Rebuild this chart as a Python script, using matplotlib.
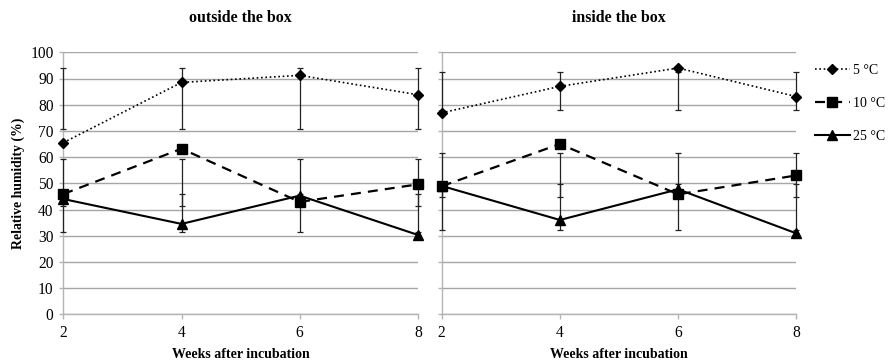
import numpy as np
import matplotlib
matplotlib.use("Agg")
import matplotlib.pyplot as plt
from matplotlib.lines import Line2D

plt.rcParams['font.family'] = ['Liberation Serif', 'DejaVu Serif']

weeks = [2, 4, 6, 8]
panel_titles = ["outside the box", "inside the box"]
series_labels = ["5 °C", "10 °C", "25 °C"]

# outside the box
out_5 = [65.5, 88.5, 91.2, 83.8]
out_10 = [45.9, 63.2, 42.9, 49.6]
out_25 = [44.0, 34.5, 45.3, 30.3]
# inside the box
in_5 = [76.9, 87.0, 94.0, 83.1]
in_10 = [48.9, 65.0, 45.8, 53.0]
in_25 = [49.0, 36.0, 47.7, 30.9]

yticks = [0, 10, 20, 30, 40, 50, 60, 70, 80, 90, 100]
xlabel = "Weeks after incubation"
ylabel = "Relative humidity (%)"

styles = [
    dict(linestyle=(0, (1, 1.6)), marker='D', markersize=5.2, linewidth=1.2),
    dict(linestyle=(0, (4.5, 3.2)), marker='s', markersize=7.5, linewidth=1.6),
    dict(linestyle='-', marker='^', markersize=6.8, linewidth=1.5),
]

W, H = 890, 362
fig = plt.figure(figsize=(W / 100, H / 100), dpi=100)

grid_c = '#a6a6a6'
axis_c = '#b4b4b4'

panels = [[out_5, out_10, out_25], [in_5, in_10, in_25]]
lefts = [63.3, 441.7]
ax_w = 354.6
ax_bottom_px = 314.3
ax_top_px = 52.3

axes = []
for i, (data, title) in enumerate(zip(panels, panel_titles)):
    ax = fig.add_axes([lefts[i] / W, 1 - ax_bottom_px / H, ax_w / W,
                       (ax_bottom_px - ax_top_px) / H])
    axes.append(ax)
    ax.set_xlim(2, 8)
    ax.set_ylim(0, 100)
    ax.set_yticks(yticks)
    ax.set_xticks(weeks)
    ax.yaxis.grid(True, color=grid_c, linewidth=1.0)
    ax.set_axisbelow(True)
    for s in ['top', 'right']:
        ax.spines[s].set_visible(False)
    for s in ['left', 'bottom']:
        ax.spines[s].set_color(axis_c)
        ax.spines[s].set_linewidth(1.0)
    ax.tick_params(axis='y', direction='out', length=3, width=1.0, color=axis_c,
                   labelsize=11.2, pad=4)
    ax.tick_params(axis='x', direction='out', length=3.5, width=1.0, color=axis_c,
                   labelsize=11.2, pad=4.5)
    if i == 1:
        ax.tick_params(axis='y', labelleft=False)
    else:
        ax.set_ylabel(ylabel, fontsize=9.9, fontweight='bold', labelpad=4)
    ax.set_xlabel(xlabel, fontsize=10, fontweight='bold', labelpad=4.5)
    ax.set_title(title, fontsize=11.4, fontweight='bold', pad=22)

    for vals, st in zip(data, styles):
        v = np.asarray(vals)
        m = v.mean()
        sd = v.std(ddof=1)
        ax.errorbar(weeks, [m] * len(weeks), yerr=sd, fmt='none',
                    ecolor='#222222', elinewidth=0.9, capsize=2.2,
                    capthick=0.9, clip_on=False, zorder=3)
        ax.plot(weeks, vals, color='black', clip_on=False, zorder=4,
                markerfacecolor='black', markeredgecolor='black', **st)

handles = [Line2D([], [], color='black', markerfacecolor='black',
                  markeredgecolor='black', **st) for st in styles]
fig.legend(handles, series_labels, loc='upper left',
           bbox_to_anchor=(815 / W, 1 - 64 / H), frameon=False,
           fontsize=10, handlelength=2.5, handletextpad=0.25,
           labelspacing=1.45, borderpad=0, borderaxespad=0)

fig.savefig("out.png", dpi=100)
